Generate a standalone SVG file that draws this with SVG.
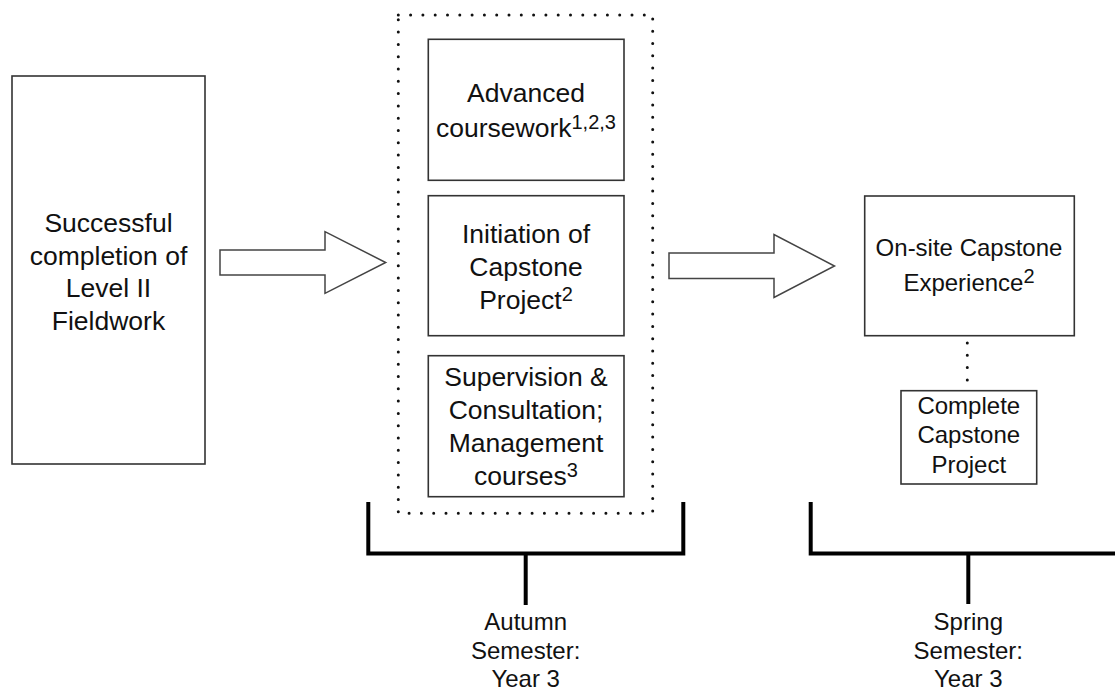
<svg xmlns="http://www.w3.org/2000/svg" width="1115" height="693" viewBox="0 0 1115 693">
<style>
  .box { fill: #fff; stroke: #333; stroke-width: 1.6; }
  .dotted { fill: none; stroke: #111; stroke-width: 3; stroke-dasharray: 0 12.3; stroke-linecap: round; }
  .arrow { fill: #fff; stroke: #444; stroke-width: 1.5; stroke-linejoin: miter; }
  .bracket { fill: none; stroke: #000; stroke-width: 4; }
  .t { font-family: "Liberation Sans", Arial, Helvetica, sans-serif; fill: #111; text-anchor: middle; }
  .big { font-size: 26.5px; }
  .mid { font-size: 24px; }
  .lab { font-size: 24px; }
  .sup { font-size: 20px; }
</style>
<rect width="1115" height="693" fill="#fff"/>

<g id="connectors">
  <polygon class="arrow" points="220,250 325,250 325,231.7 385.7,262.5 325,293.3 325,275 220,275"/>
  <polygon class="arrow" points="669,253 774,253 774,234.5 834.5,266 774,297.5 774,278.5 669,278.5"/>
  <line class="dotted" x1="967.3" y1="343" x2="967.3" y2="381"/>
  <polyline class="bracket" points="368.3,502 368.3,553.5 683.3,553.5 683.3,502"/>
  <line class="bracket" x1="525.7" y1="553.5" x2="525.7" y2="605"/>
  <polyline class="bracket" points="810.7,502 810.7,553.5 1117,553.5"/>
  <line class="bracket" x1="968.3" y1="553.5" x2="968.3" y2="604"/>
</g>

<g id="node-level2">
  <rect class="box" x="12" y="76" width="193" height="388"/>
  <text class="t big" x="108.5" y="232">Successful</text>
  <text class="t big" x="108.5" y="264.5">completion of</text>
  <text class="t big" x="108.5" y="297">Level II</text>
  <text class="t big" x="108.5" y="330">Fieldwork</text>
</g>

<g id="node-autumn-group">
  <rect class="dotted" x="398.3" y="15" width="254.4" height="498.3"/>
</g>

<g id="node-advanced">
  <rect class="box" x="428.3" y="39.3" width="195.7" height="141"/>
  <text class="t big" x="526" y="101.7">Advanced</text>
  <text class="t big" x="526" y="136.7">coursework<tspan class="sup" dy="-8">1,2,3</tspan></text>
</g>

<g id="node-initiation">
  <rect class="box" x="428.3" y="195.7" width="195.7" height="140"/>
  <text class="t big" x="526" y="243.3">Initiation of</text>
  <text class="t big" x="526" y="276">Capstone</text>
  <text class="t big" x="526" y="309">Project<tspan class="sup" dy="-8">2</tspan></text>
</g>

<g id="node-supervision">
  <rect class="box" x="428.3" y="355.7" width="195.7" height="141"/>
  <text class="t big" x="526" y="386">Supervision &amp;</text>
  <text class="t big" x="526" y="418.5">Consultation;</text>
  <text class="t big" x="526" y="451.7">Management</text>
  <text class="t big" x="526" y="485">courses<tspan class="sup" dy="-8">3</tspan></text>
</g>

<g id="node-onsite">
  <rect class="box" x="864.7" y="196" width="209.6" height="139.7"/>
  <text class="t mid" x="969" y="256">On-site Capstone</text>
  <text class="t mid" x="969" y="290.7">Experience<tspan class="sup" dy="-8">2</tspan></text>
</g>

<g id="node-complete">
  <rect class="box" x="901" y="390.7" width="135.7" height="93.3"/>
  <text class="t mid" x="968.8" y="414">Complete</text>
  <text class="t mid" x="968.8" y="443.3">Capstone</text>
  <text class="t mid" x="968.8" y="472.7">Project</text>
</g>

<g id="label-autumn">
  <text class="t lab" x="525.7" y="630">Autumn</text>
  <text class="t lab" x="525.7" y="658.5">Semester:</text>
  <text class="t lab" x="525.7" y="687">Year 3</text>
</g>

<g id="label-spring">
  <text class="t lab" x="968.3" y="630">Spring</text>
  <text class="t lab" x="968.3" y="658.5">Semester:</text>
  <text class="t lab" x="968.3" y="687">Year 3</text>
</g>
</svg>
